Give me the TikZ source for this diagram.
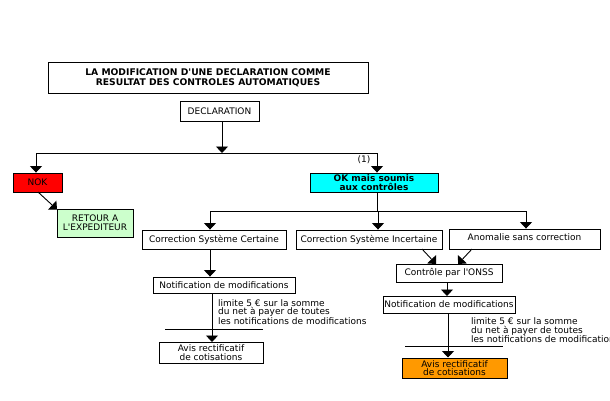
\documentclass[tikz,border=0pt]{standalone}
\usepackage{fontspec}
\setmainfont{DejaVu Sans}[Ligatures=TeXOff]
\usetikzlibrary{arrows.meta}
\definecolor{nokred}{HTML}{FF0000}
\definecolor{okcyan}{HTML}{00FFFF}
\definecolor{retgreen}{HTML}{CCFFCC}
\definecolor{avisorange}{HTML}{FF9900}
\begin{document}
\begin{tikzpicture}[x=1pt,y=-1pt,
  box/.style={draw,line width=0.9pt,inner sep=0pt,align=center,font=\fontsize{9}{8.7}\selectfont},
  arr/.style={line width=0.9pt,-{Triangle[width=12pt,length=6.5pt]}},
  ln/.style={line width=0.9pt},
  note/.style={anchor=north west,align=left,inner sep=0pt,font=\fontsize{9}{8.7}\selectfont}]
\useasboundingbox (0,0) rectangle (610,400);
\clip (0,0) rectangle (610,400);
% boxes
\node[box,minimum width=320pt,minimum height=31pt,font=\fontsize{9.2}{10}\selectfont\bfseries] (title) at (208,77.5) {LA MODIFICATION D'UNE DECLARATION COMME\\RESULTAT DES CONTROLES AUTOMATIQUES};
\node[box,minimum width=79pt,minimum height=20pt] (decl) at (219.5,111) {DECLARATION};
\node[box,fill=nokred,minimum width=49pt,minimum height=19pt] (nok) at (37.5,182.5) {NOK};
\node[box,fill=okcyan,minimum width=128pt,minimum height=19pt,font=\fontsize{9}{8.7}\selectfont\bfseries] (ok) at (374,182.5) {OK mais soumis\\aux contrôles};
\node[box,fill=retgreen,minimum width=76pt,minimum height=28pt] (ret) at (95,223) {RETOUR A\\L'EXPEDITEUR};
\node[box,minimum width=144pt,minimum height=19pt] (csc) at (214,239.5) {Correction Système Certaine};
\node[box,minimum width=146pt,minimum height=19pt] (csi) at (369,239.5) {Correction Système Incertaine};
\node[box,minimum width=151pt,minimum height=20pt,text depth=4pt] (anom) at (524.5,239) {Anomalie sans correction};
\node[box,minimum width=106pt,minimum height=18pt] (ctrl) at (449,273) {Contrôle par l'ONSS};
\node[box,minimum width=142pt,minimum height=16pt] (notl) at (224,285) {Notification de modifications};
\node[box,minimum width=132pt,minimum height=17pt] (notr) at (449,304.5) {Notification de modifications};
\node[box,minimum width=104pt,minimum height=21pt] (avisl) at (211,352.5) {Avis rectificatif\\de cotisations};
\node[box,fill=avisorange,minimum width=105pt,minimum height=20pt] (avisr) at (454.5,368) {Avis rectificatif\\de cotisations};
% labels
\node[inner sep=0pt,font=\fontsize{9}{9}\selectfont] (one) at (364,160) {(1)};
\node[note] (liml) at (218,299) {limite 5 € sur la somme\\du net à payer de toutes\\les notifications de modifications};
\node[note] (limr) at (471,317.5) {limite 5 € sur la somme\\du net à payer de toutes\\les notifications de modifications};
% junctions
\coordinate (j0) at (222,153);
\coordinate (jl) at (36,153);
\coordinate (jr) at (377,153);
\coordinate (k0) at (377,211);
\coordinate (kl) at (210,211);
\coordinate (km) at (378,211);
\coordinate (kr) at (526,211);
\coordinate (bl1) at (165,329);
\coordinate (bl2) at (263,329);
\coordinate (br1) at (405,346);
\coordinate (br2) at (503,346);
% connectors
\draw[arr] (decl.south -| j0) -- (j0);
\draw[ln] (jl) -- (jr);
\draw[arr] (jl) -- (jl |- nok.north);
\draw[arr] (jr) -- (jr |- ok.north);
\draw[arr] (38,192) -- (57,209.5);
\draw[ln] (ok.south -| k0) -- (k0);
\draw[ln] (kl) -- (kr);
\draw[arr] (kl) -- (kl |- csc.north);
\draw[arr] (km) -- (km |- csi.north);
\draw[arr] (kr) -- (kr |- anom.north);
\draw[arr] (csc.south -| kl) -- (kl |- notl.north);
\draw[arr] (422,249) -- (436,264);
\draw[arr] (472,249) -- (458,264);
\draw[arr] (447,282) -- (447,296);
\draw[arr] (212,293) -- (212,342);
\draw[ln] (bl1) -- (bl2);
\draw[arr] (448,313) -- (448,357.5);
\draw[ln] (br1) -- (br2);
\end{tikzpicture}
\end{document}
